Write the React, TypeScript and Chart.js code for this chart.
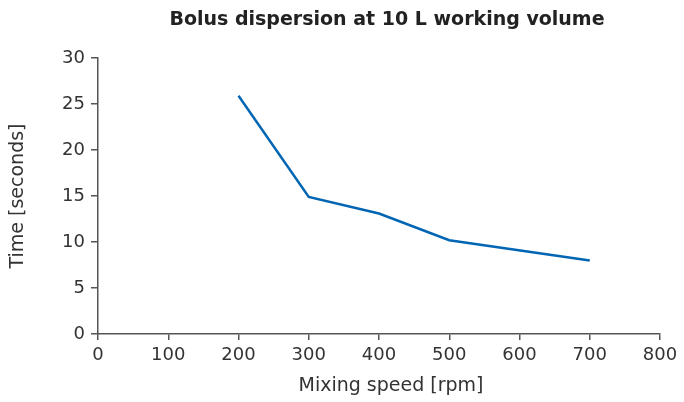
import React, { useEffect, useRef } from "react";
import { Chart, registerables } from "chart.js";

Chart.register(...registerables);

const speeds = [200, 300, 400, 500, 700];
const times = [25.9, 14.9, 13.1, 10.2, 8.0];
const xTicks = { min: 0, max: 800, step: 100 };
const yTicks = { min: 0, max: 30, step: 5 };
const TITLE = "Bolus dispersion at 10 L working volume";
const X_TITLE = "Mixing speed [rpm]";
const Y_TITLE = "Time [seconds]";

const FONT = "'DejaVu Sans', Verdana, sans-serif";
const AXIS = "#555555";
const TEXT = "#333333";

const titlesPlugin = {
  id: "titles",
  afterDraw(chart: any) {
    const { ctx, chartArea } = chart;
    const cx = (chartArea.left + chartArea.right) / 2;
    ctx.save();
    ctx.textAlign = "center";
    ctx.textBaseline = "middle";
    ctx.fillStyle = "#222222";
    ctx.font = `bold 19px ${FONT}`;
    ctx.fillText(TITLE, cx + 8, 20);
    ctx.fillStyle = TEXT;
    ctx.font = `19px ${FONT}`;
    ctx.fillText(X_TITLE, cx + 12, chartArea.bottom + 52);
    ctx.restore();
  },
};

export default function App() {
  const ref = useRef<HTMLCanvasElement | null>(null);
  useEffect(() => {
    if (!ref.current) return;
    const chart = new Chart(ref.current, {
      type: "line",
      data: {
        datasets: [
          {
            data: speeds.map((s, i) => ({ x: s, y: times[i] })),
            borderColor: "#0066b3",
            backgroundColor: "#0066b3",
            borderWidth: 2.5,
            pointRadius: 0,
            tension: 0,
          },
        ],
      },
      plugins: [titlesPlugin],
      options: {
        animation: false,
        responsive: false,
        layout: { padding: { left: 0, right: 24, top: 58, bottom: 0 } },
        plugins: {
          legend: { display: false },
          tooltip: { enabled: false },
          title: { display: false },
        },
        scales: {
          x: {
            type: "linear",
            min: xTicks.min,
            max: xTicks.max,
            afterFit(scale: any) {
              scale.height = 68;
            },
            ticks: { stepSize: xTicks.step, color: TEXT, font: { family: FONT, size: 18 }, padding: 5 },
            grid: { display: true, drawOnChartArea: false, drawTicks: true, tickLength: 6, color: AXIS, lineWidth: 1.5 },
            border: { display: true, color: AXIS, width: 1.5 },
            title: { display: false },
          },
          y: {
            type: "linear",
            min: yTicks.min,
            max: yTicks.max,
            afterFit(scale: any) {
              scale.width = 98;
            },
            ticks: { stepSize: yTicks.step, color: TEXT, font: { family: FONT, size: 18 }, padding: 6 },
            grid: { display: true, drawOnChartArea: false, drawTicks: true, tickLength: 7, color: AXIS, lineWidth: 1.5 },
            border: { display: true, color: AXIS, width: 1.5 },
            title: { display: true, text: Y_TITLE, color: TEXT, font: { family: FONT, size: 19 }, padding: { top: 7, bottom: 7 } },
          },
        },
      },
    });
    return () => chart.destroy();
  }, []);
  return (
    <div style={{ position: "fixed", left: 0, top: 0, width: 684, height: 402, background: "#fff" }}>
      <canvas ref={ref} width={684} height={402} />
    </div>
  );
}
